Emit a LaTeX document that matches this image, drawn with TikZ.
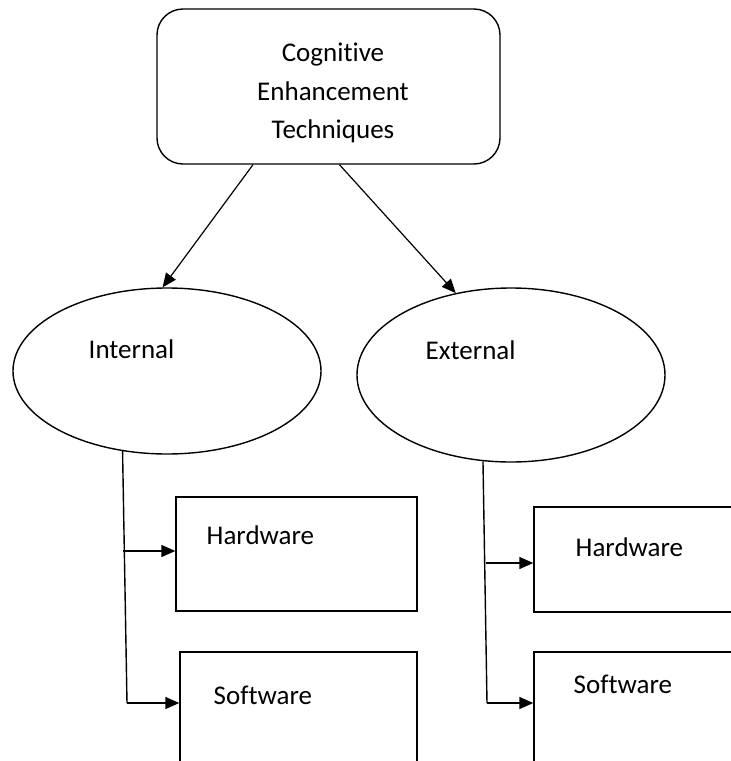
\documentclass[tikz,border=0pt]{standalone}
\usepackage{fontspec}
\setmainfont[Ligatures=NoCommon]{Carlito}
\usetikzlibrary{shapes.geometric,arrows.meta}

\begin{document}
\begin{tikzpicture}[x=1pt,y=-1pt,line width=1.4pt,
        every node/.style={font=\fontsize{27}{38.5}\selectfont,inner sep=0pt},
        titlebox/.style={draw,rounded corners=26pt,minimum width=343pt,minimum height=155pt},
        oval/.style={draw,ellipse,minimum width=308pt},
        partbox/.style={draw,rectangle},
        lbl/.style={anchor=base west},
        arr/.style={-{Triangle[length=14pt,width=12pt]}}]
        \useasboundingbox (0,0) rectangle (731,761);
        \clip (0,0) rectangle (731,761);
        \fill[white] (0,0) rectangle (731,761);
        % top
        \node[titlebox] (cet) at (328.5,86.5) {};
        \node[align=center] (cettext) at (333,93.2) {Cognitive\\Enhancement\\Techniques};
        % two kinds
        \node[oval,minimum height=166pt] (int) at (167,371) {};
        \node[oval,minimum height=174pt] (ext) at (511,375) {};
        \node[lbl] (inttext) at (88,358) {Internal};
        \node[lbl] (exttext) at (425,359) {External};
        \draw[arr,line width=1.2pt] (cet.-134) -- (int.93);
        \draw[arr,line width=1.2pt] (cet.-82) -- (ext.124);
        % boxes
        \node[partbox,minimum width=241pt,minimum height=114pt] (hwi) at (296.5,554) {};
        \node[partbox,minimum width=237pt,minimum height=200pt] (swi) at (298.5,752) {};
        \node[partbox,minimum width=300pt,minimum height=105pt] (hwe) at (684,559.5) {};
        \node[partbox,minimum width=300pt,minimum height=200pt] (swe) at (684,752) {};
        \node[lbl] (hwitext) at (206,544) {Hardware};
        \node[lbl] (switext) at (213,704) {Software};
        \node[lbl] (hwetext) at (575,556) {Hardware};
        \node[lbl] (swetext) at (573,693) {Software};
        % branches
        \coordinate (ib1) at (123,551);
        \coordinate (ib2) at (127,703);
        \coordinate (eb1) at (486,563);
        \coordinate (eb2) at (487,703);
        \draw (int.-119) -- (ib2);
        \draw (ext.-108) -- (eb2);
        \draw[arr] (ib1) -- (ib1 -| hwi.west);
        \draw[arr] (ib2) -- (ib2 -| swi.west);
        \draw[arr] (eb1) -- (eb1 -| hwe.west);
        \draw[arr] (eb2) -- (eb2 -| swe.west);
    \end{tikzpicture}
\end{document}
